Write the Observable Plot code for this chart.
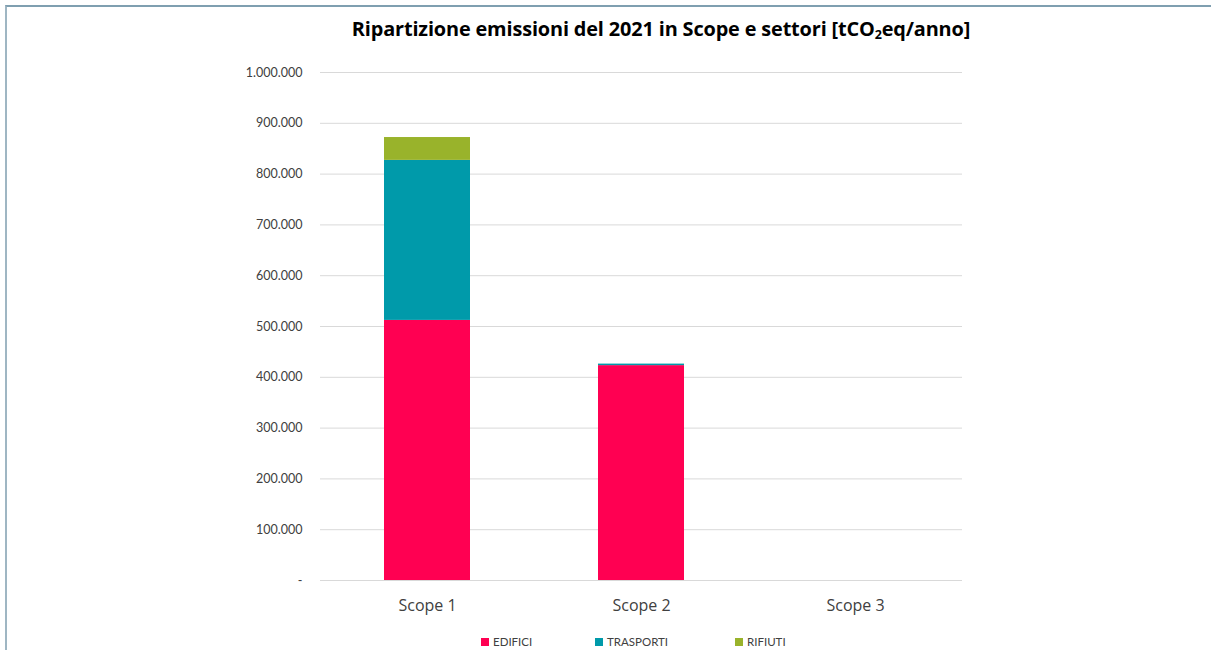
<!DOCTYPE html>
<html>
<head>
<meta charset="utf-8">
<script src="https://cdn.jsdelivr.net/npm/d3@7"></script>
<script src="https://cdn.jsdelivr.net/npm/@observablehq/plot@0.6"></script>
<style>
  html, body { margin: 0; padding: 0; background: #fff; }
  #wrap { position: relative; width: 1211px; height: 650px; overflow: hidden; }
  #frame { position: absolute; left: 5px; top: 5px; width: 1220px; height: 700px;
           border-top: 2px solid #7f9fb0; border-left: 2px solid #9fb6c3; box-sizing: border-box; }
  #title { position: absolute; top: 15px; left: 0; width: 1322px; text-align: center;
           font-family: "Open Sans", sans-serif; font-weight: 700; font-size: 19.9px; color: #000; letter-spacing: -0.15px; }
  #title sub { font-size: 12.5px; vertical-align: -3px; line-height: 0; }
  #chart { position: absolute; left: 0; top: 0; }
  #legend { position: absolute; top: 635px; left: 0; font-family: Lato, sans-serif; font-size: 11.5px; color: #404040; }
  .item { position: absolute; white-space: nowrap; display: flex; align-items: center; }
  .sw { width: 8px; height: 8px; margin-right: 4px; display: inline-block; }
</style>
</head>
<body>
<div id="wrap">
  <div id="frame"></div>
  <div id="chart"></div>
  <div id="title">Ripartizione emissioni del 2021 in Scope e settori [tCO<sub>2</sub>eq/anno]</div>
  <div id="legend"></div>
</div>
<script>
const scopes = ["Scope 1", "Scope 2", "Scope 3"];
const sectors = ["EDIFICI", "TRASPORTI", "RIFIUTI"];
const colors = ["#ff0052", "#009aaa", "#99b32b"];
const edifici = [512000, 423000, 0];
const trasporti = [315000, 3000, 0];
const rifiuti = [45000, 0, 0];
const yTicks = [0, 100000, 200000, 300000, 400000, 500000, 600000, 700000, 800000, 900000, 1000000];

const series = [edifici, trasporti, rifiuti];
const data = [];
scopes.forEach((s, i) => sectors.forEach((sec, j) => data.push({scope: s, sector: sec, value: series[j][i]})));

const fmt = v => v === 0 ? "-" : d3.format(",")(v).replace(/,/g, ".");

const plot = Plot.plot({
  width: 1211,
  height: 650,
  marginTop: 72,
  marginBottom: 70,
  marginLeft: 320,
  marginRight: 249,
  style: {background: "transparent", overflow: "visible"},
  x: {domain: scopes, paddingInner: 0.6, paddingOuter: 0.3, label: null},
  y: {domain: [0, 1000000], ticks: yTicks, label: null},
  color: {domain: sectors, range: colors},
  marks: [
    Plot.ruleY(yTicks, {stroke: "#d9d9d9", strokeWidth: 1}),
    Plot.barY(data, Plot.stackY({x: "scope", y: "value", fill: "sector", order: sectors})),
    Plot.axisY({ticks: yTicks, tickSize: 0, tickPadding: 18, tickFormat: fmt,
      fontSize: 12.5, fontFamily: "Lato, sans-serif", fill: "#404040", label: null}),
    Plot.axisX({tickSize: 0, tickPadding: 19, fontSize: 16, fontFamily: "'Open Sans', sans-serif",
      fill: "#404040", label: null})
  ]
});
document.getElementById("chart").appendChild(plot);

const lefts = [481, 595, 735];
const legend = document.getElementById("legend");
sectors.forEach((s, i) => {
  const it = document.createElement("div");
  it.className = "item";
  it.style.left = lefts[i] + "px";
  it.innerHTML = `<span class="sw" style="background:${colors[i]}"></span>${s}`;
  legend.appendChild(it);
});
</script>
</body>
</html>
